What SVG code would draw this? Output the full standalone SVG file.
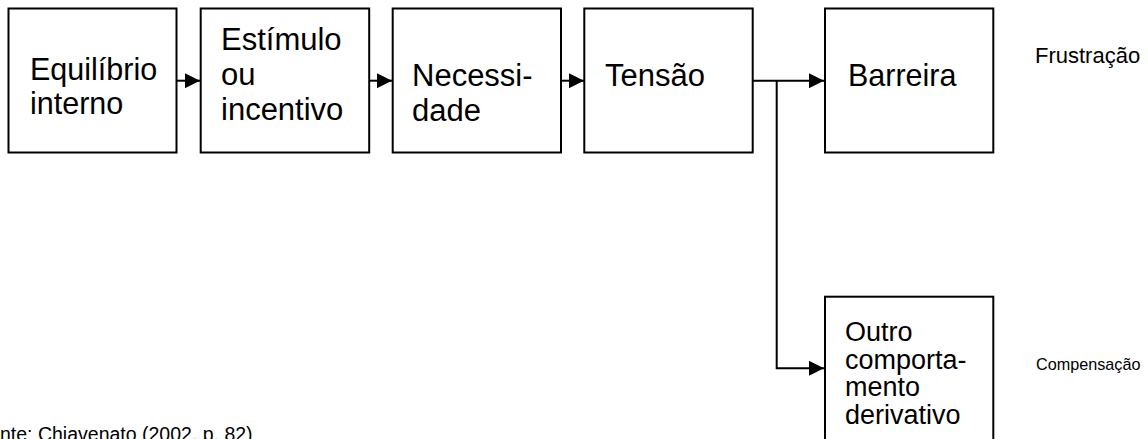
<svg xmlns="http://www.w3.org/2000/svg" width="1148" height="439" viewBox="0 0 1148 439">
<defs>
<style>
.box{fill:#fff;stroke:#000;stroke-width:2}
.t{font-family:"Liberation Sans",Arial,sans-serif;font-size:30.5px;fill:#000}
.tb{font-size:31px}
.ts{font-family:"Liberation Sans",Arial,sans-serif;font-size:27px;fill:#000}
.lbl{font-family:"Liberation Sans",Arial,sans-serif;fill:#000}
.c{fill:none;stroke:#000;stroke-width:2}
</style>
<marker id="ah" viewBox="0 0 15 15" refX="15" refY="7.5" markerWidth="15" markerHeight="15" markerUnits="userSpaceOnUse" orient="auto">
<path d="M0,0 L15,7.5 L0,15 Z" fill="#000"/>
</marker>
</defs>
<rect width="1148" height="439" fill="#fff"/>
<g id="connectors">
<line class="c" x1="177" y1="80.7" x2="200" y2="80.7" marker-end="url(#ah)"/>
<line class="c" x1="369" y1="80.7" x2="392" y2="80.7" marker-end="url(#ah)"/>
<line class="c" x1="561" y1="80.7" x2="584" y2="80.7" marker-end="url(#ah)"/>
<line class="c" x1="753" y1="80.7" x2="824" y2="80.7" marker-end="url(#ah)"/>
<polyline class="c" points="776.7,80.7 776.7,368.3 824,368.3" marker-end="url(#ah)"/>
</g>
<g id="n1">
<rect class="box" x="8.5" y="8.5" width="168" height="144"/>
<text class="t" x="30" y="80">Equilíbrio</text>
<text class="t" x="30" y="114">interno</text>
</g>
<g id="n2">
<rect class="box" x="200.7" y="8.5" width="168.5" height="144"/>
<text class="t tb" x="221" y="49.5">Estímulo</text>
<text class="t tb" x="221" y="84.5">ou</text>
<text class="t tb" x="221" y="119.5">incentivo</text>
</g>
<g id="n3">
<rect class="box" x="392.7" y="8.5" width="168.3" height="144"/>
<text class="t tb" x="412" y="86">Necessi-</text>
<text class="t tb" x="412" y="121">dade</text>
</g>
<g id="n4">
<rect class="box" x="584.3" y="8.5" width="168.4" height="144"/>
<text class="t tb" x="605" y="86">Tensão</text>
</g>
<g id="n5">
<rect class="box" x="825" y="8.5" width="168.3" height="144"/>
<text class="t" x="848" y="86">Barreira</text>
</g>
<g id="n6">
<rect class="box" x="825" y="296.7" width="168.3" height="144"/>
<text class="ts" x="845" y="341">Outro</text>
<text class="ts" x="845" y="368.5">comporta-</text>
<text class="ts" x="845" y="396">mento</text>
<text class="ts" x="845" y="423.5">derivativo</text>
</g>
<g id="labels">
<text class="lbl" x="1035" y="63" font-size="22">Frustração</text>
<text class="lbl" x="1036" y="370" font-size="16.2">Compensação</text>
<text class="lbl" x="0" y="441" font-size="19.5">nte: Chiavenato (2002, p. 82)</text>
</g>
</svg>
